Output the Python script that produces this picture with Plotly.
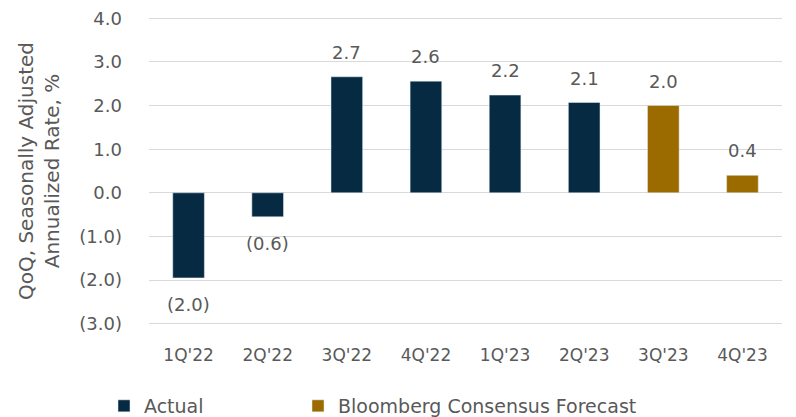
import plotly.graph_objects as go

categories = ["1Q'22", "2Q'22", "3Q'22", "4Q'22", "1Q'23", "2Q'23", "3Q'23", "4Q'23"]
actual_cats = categories[:6]
actual_vals = [-1.95, -0.55, 2.66, 2.56, 2.24, 2.07]
actual_labels = ["(2.0)", "(0.6)", "2.7", "2.6", "2.2", "2.1"]
forecast_cats = categories[6:]
forecast_vals = [2.0, 0.4]
forecast_labels = ["2.0", "0.4"]
y_tickvals = [-3, -2, -1, 0, 1, 2, 3, 4]
y_ticktext = ["(3.0)", "(2.0)", "(1.0)", "0.0", "1.0", "2.0", "3.0", "4.0"]

navy = "#062a41"
gold = "#9b6b00"
txt = "#595959"
FONT = "DejaVu Sans"

fig = go.Figure()
fig.add_trace(go.Bar(x=actual_cats, y=actual_vals, name="Actual", marker_color=navy,
                     width=0.4, legend="legend"))
fig.add_trace(go.Bar(x=forecast_cats, y=forecast_vals, name="Bloomberg Consensus Forecast",
                     marker_color=gold, width=0.4, legend="legend2"))

# data labels, placed from the data arrays
for cats, vals, labels in [(actual_cats, actual_vals, actual_labels),
                           (forecast_cats, forecast_vals, forecast_labels)]:
    for c, v, lab in zip(cats, vals, labels):
        pos = v >= 0
        fig.add_annotation(x=c, y=v, text=lab, showarrow=False,
                           yanchor="bottom" if pos else "top",
                           yshift=12 if pos else -14,
                           font=dict(size=18, color=txt, family=FONT))

leg_common = dict(orientation="h", xref="container", yref="container", y=0.072,
                  xanchor="left", yanchor="top", bgcolor="rgba(0,0,0,0)",
                  font=dict(size=19, color=txt, family=FONT))

fig.update_layout(
    width=796, height=417,
    margin=dict(l=149, r=14, t=17, b=92, autoexpand=False),
    plot_bgcolor="white", paper_bgcolor="white",
    barmode="overlay",
    font=dict(family=FONT, color=txt, size=17),
    showlegend=True,
    legend=dict(x=104 / 796, **leg_common),
    legend2=dict(x=298 / 796, **leg_common),
    xaxis=dict(categoryorder="array", categoryarray=categories, showgrid=False,
               showline=False, ticks="", ticklabelstandoff=18, automargin=False,
               tickfont=dict(size=17, color=txt, family=FONT)),
    yaxis=dict(range=[-3.03, 4.03], tickvals=y_tickvals, ticktext=y_ticktext,
               showgrid=True, gridcolor="#d9d9d9", gridwidth=1, zeroline=True,
               zerolinecolor="#d9d9d9", zerolinewidth=1, ticklabelstandoff=26,
               automargin=False,
               tickfont=dict(size=18, color=txt, family=FONT),
               title=dict(text="QoQ, Seasonally Adjusted<br>Annualized Rate, %",
                          font=dict(size=20, color=txt, family=FONT), standoff=14)),
)

fig.write_html("out.html", config={"displayModeBar": False},
               post_script="document.body.style.margin='0';")
